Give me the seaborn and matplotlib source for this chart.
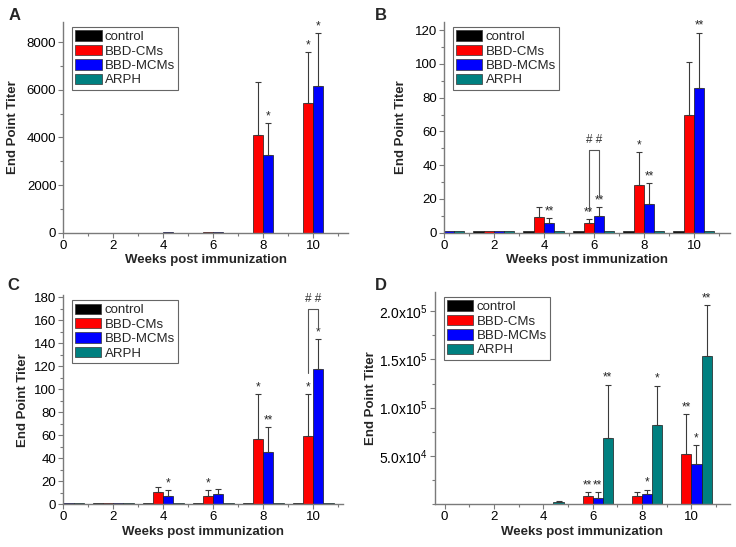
import matplotlib
matplotlib.use("Agg")
import matplotlib.pyplot as plt
import matplotlib.ticker as mticker
import numpy as np
import pandas as pd
import seaborn as sns

# ── Data (rows follow GROUPS, columns follow WEEKS) ──────────
WEEKS = [0, 2, 4, 6, 8, 10]
GROUPS = ["control", "BBD-CMs", "BBD-MCMs", "ARPH"]

A_MEAN = [[0, 0, 0, 0, 0, 0],
          [0, 2, 5, 30, 4100, 5460],
          [0, 2, 25, 35, 3250, 6150],
          [0, 0, 0, 0, 0, 0]]
A_SD = [[0, 0, 0, 0, 0, 0],
        [0, 0, 0, 0, 2240, 2110],
        [0, 0, 0, 0, 1340, 2220],
        [0, 0, 0, 0, 0, 0]]
A_SIG = [["", "", "", "", "", ""],
         ["", "", "", "", "", "*"],
         ["", "", "", "", "*", "*"],
         ["", "", "", "", "", ""]]

B_MEAN = [[1, 1, 1, 1, 1, 1],
          [1, 1, 9.1, 5.9, 28, 69.7],
          [1, 1, 5.7, 10.1, 17, 85.7],
          [1, 1, 1, 1, 1, 1]]
B_SD = [[0, 0, 0, 0, 0, 0],
        [0, 0, 5.9, 2.2, 20, 31.3],
        [0, 0, 2.8, 4.9, 12.2, 32.9],
        [0, 0, 0, 0, 0, 0]]
B_SIG = [["", "", "", "", "", ""],
         ["", "", "", "**", "*", ""],
         ["", "", "**", "**", "**", "**"],
         ["", "", "", "", "", ""]]
B_BRACKET = [6, 49, 13, 21]    # week, top, left end, right end

C_MEAN = [[1, 1, 1, 1, 1, 1],
          [1, 1.5, 10.4, 7.2, 56.5, 59],
          [1, 1.5, 7, 8.7, 45.8, 117.4],
          [1, 1, 1, 1, 1, 1]]
C_SD = [[0, 0, 0, 0, 0, 0],
        [0, 0, 5, 5.3, 39.7, 37.2],
        [0, 0, 5.5, 4.6, 21.2, 26.1],
        [0, 0, 0, 0, 0, 0]]
C_SIG = [["", "", "", "", "", ""],
         ["", "", "", "*", "*", "*"],
         ["", "", "*", "", "**", "*"],
         ["", "", "", "", "", ""]]
C_BRACKET = [10, 170, 114.5, 153]

D_MEAN = [[0, 0, 0, 0, 0, 0],
          [0, 300, 300, 8300, 9000, 51700],
          [0, 0, 200, 6900, 10400, 41300],
          [0, 300, 2800, 69000, 82300, 153100]]
D_SD = [[0, 0, 0, 0, 0, 0],
        [0, 0, 0, 4550, 3850, 42050],
        [0, 0, 0, 5600, 4900, 19800],
        [0, 0, 700, 54900, 40500, 53150]]
D_SIG = [["", "", "", "", "", ""],
         ["", "", "", "**", "", "**"],
         ["", "", "", "**", "*", "*"],
         ["", "", "", "**", "*", "**"]]

COLORS = {"control": "#000000", "BBD-CMs": "#ff0000",
          "BBD-MCMs": "#0000ff", "ARPH": "#008080"}
AXIS_GREY = "#7a7a7a"

# ── Style ────────────────────────────────────────────────────
sns.set_theme(style="ticks")
plt.rcParams["font.family"] = ["Liberation Sans", "DejaVu Sans"]
plt.rcParams["mathtext.default"] = "regular"


def long_frame(mean):
    rows = []
    for g, vals in zip(GROUPS, mean):
        for w, v in zip(WEEKS, vals):
            rows.append({"week": w, "group": g, "titer": v})
    return pd.DataFrame(rows)


def sci_fmt(v, _):
    if v <= 0:
        return ""
    e = int(np.floor(np.log10(v)))
    return f"{v / 10**e:.1f}x10$^{{{e}}}$"


def draw_panel(ax, mean, sd, sig, ymax, major, minor, xlim, ylab_x,
               bracket=None, sci=False):
    sns.barplot(data=long_frame(mean), x="week", y="titer", hue="group",
                hue_order=GROUPS, palette=COLORS, saturation=1,
                native_scale=True, width=0.82, errorbar=None,
                edgecolor="#1a1a1a", linewidth=0.5, ax=ax)

    # one-sided SD bars and significance stars
    for cont, s_row, sig_row in zip(ax.containers, sd, sig):
        for bar, s, mark in zip(cont, s_row, sig_row):
            xc = bar.get_x() + bar.get_width() / 2
            top = bar.get_height()
            if s > 0:
                ax.errorbar(xc, top, yerr=[[0], [s]], fmt="none",
                            ecolor="#3a3a3a", elinewidth=0.8, capsize=2.2,
                            capthick=0.8, zorder=4)
            if mark:
                ax.annotate(mark, (xc, top + s), xytext=(0, 0.5),
                            textcoords="offset points", ha="center",
                            va="bottom", fontsize=8.5, zorder=5)

    if bracket is not None:
        week, top, lo_l, lo_r = bracket
        i = WEEKS.index(week)
        bl = ax.containers[1][i]
        br = ax.containers[2][i]
        xl = bl.get_x() + bl.get_width() / 2
        xr = br.get_x() + br.get_width() / 2
        ax.plot([xl, xl, xr, xr], [lo_l, top, top, lo_r],
                color="#555555", lw=0.8, zorder=5)
        ax.annotate("# #", ((xl + xr) / 2, top), xytext=(0, 3),
                    textcoords="offset points", ha="center", va="bottom",
                    fontsize=8.5, color="#333333")

    ax.set_xlim(*xlim)
    ax.set_ylim(0, ymax)
    ax.xaxis.set_major_locator(mticker.FixedLocator(WEEKS))
    ax.xaxis.set_minor_locator(mticker.MultipleLocator(1))
    ax.yaxis.set_major_locator(mticker.FixedLocator(major))
    ax.yaxis.set_minor_locator(mticker.MultipleLocator(minor))
    if sci:
        ax.yaxis.set_major_formatter(mticker.FuncFormatter(sci_fmt))
    else:
        ax.yaxis.set_major_formatter(
            mticker.FuncFormatter(lambda v, _: f"{int(v)}"))

    for side in ["top", "right"]:
        ax.spines[side].set_visible(False)
    for side in ["left", "bottom"]:
        ax.spines[side].set_color(AXIS_GREY)
        ax.spines[side].set_linewidth(1.0)
    ax.tick_params(which="both", direction="out", color=AXIS_GREY,
                   width=0.8, labelsize=9.5, labelcolor="black", pad=1.5)
    ax.tick_params(which="major", length=3.5)
    ax.tick_params(which="minor", length=2)
    if sci:
        ax.tick_params(axis="y", labelsize=10)

    ax.set_xlabel("Weeks post immunization", fontsize=9.5,
                  fontweight="bold", labelpad=2)
    ax.set_ylabel("End Point Titer", fontsize=9.5, fontweight="bold")
    ax.yaxis.set_label_coords(ylab_x, 0.5)

    old = ax.get_legend()
    handles = old.legend_handles
    for h in handles:
        h.set_edgecolor("#333333")
        h.set_linewidth(0.5)
    ax.legend(handles, GROUPS, loc="upper left",
              bbox_to_anchor=(0.03, 0.975), fontsize=9.5, frameon=True,
              fancybox=False, edgecolor="#666666", framealpha=1,
              handlelength=2.0, handleheight=0.85, handletextpad=0.25,
              labelspacing=0.12, borderpad=0.25, borderaxespad=0)
    ax.get_legend().get_frame().set_linewidth(0.8)


W, H = 736, 547
fig = plt.figure(figsize=(W / 100, H / 100), dpi=100)

def add_axes(left, top, right, bottom):
    return fig.add_axes([left / W, 1 - bottom / H,
                         (right - left) / W, (bottom - top) / H])

ax_a = add_axes(63.3, 21.7, 348, 232.7)
ax_b = add_axes(444, 21.7, 729.7, 232.7)
ax_c = add_axes(63.3, 295, 343, 504.3)
ax_d = add_axes(434.7, 291.7, 729.7, 504.3)

draw_panel(ax_a, A_MEAN, A_SD, A_SIG, 8860, [0, 2000, 4000, 6000, 8000],
           1000, (0, 11.4), -0.156)
draw_panel(ax_b, B_MEAN, B_SD, B_SIG, 125, list(range(0, 121, 20)),
           10, (0, 11.43), -0.13, bracket=B_BRACKET)
draw_panel(ax_c, C_MEAN, C_SD, C_SIG, 182, list(range(0, 181, 20)),
           10, (0, 11.2), -0.124, bracket=C_BRACKET)
draw_panel(ax_d, D_MEAN, D_SD, D_SIG, 220000,
           [50000, 100000, 150000, 200000], 25000, (-0.4, 11.55), -0.197,
           sci=True)

for letter, x, y in [("A", 15, 15), ("B", 381, 15),
                     ("C", 13, 285), ("D", 381, 285)]:
    fig.text(x / W, 1 - y / H, letter, fontsize=12, fontweight="bold",
             ha="center", va="center")

fig.savefig("out.png", dpi=100)
